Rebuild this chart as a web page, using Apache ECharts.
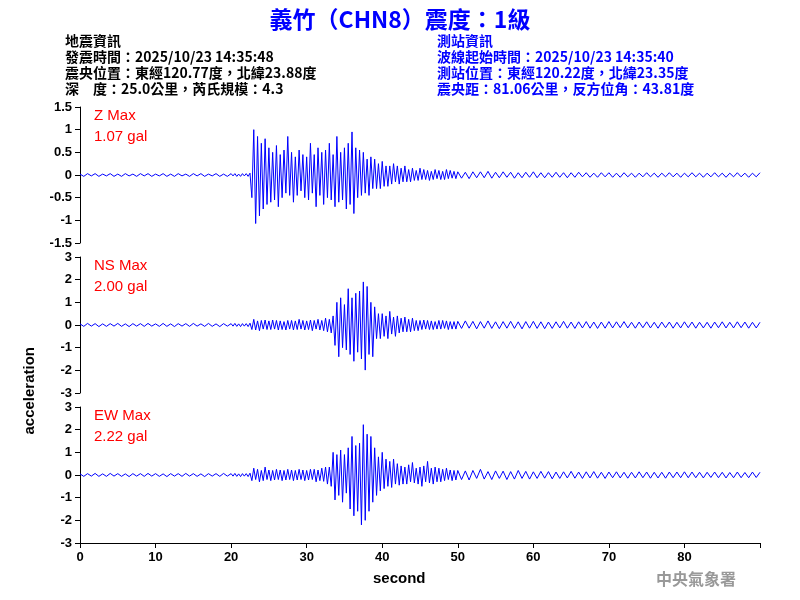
<!DOCTYPE html>
<html><head><meta charset="utf-8">
<script src="https://cdn.jsdelivr.net/npm/echarts@6/dist/echarts.min.js"></script>
<style>body{margin:0}#c{width:800px;height:600px}</style></head>
<body><div id="c"></div>
<script>
// quiet pre-event (0–19.5 s, 0.5 s), active (20–50 s, 0.25 s), tail (50.5–90 s, 0.5 s)
const zPre=[0.02,-0.03,0.03,-0.02,0.03,-0.03,0.02,-0.02,0.03,-0.03,0.02,-0.03,0.03,-0.02,0.02,-0.03,0.03,-0.02,0.03,-0.03,0.02,-0.02,0.03,-0.03,0.02,-0.03,0.03,-0.02,0.02,-0.03,0.03,-0.02,0.03,-0.03,0.02,-0.02,0.03,-0.03,0.02,-0.03];
const zAct=[0.03,-0.02,0.03,-0.03,0.02,-0.03,0.03,-0.02,0.03,-0.03,0.04,
-0.5,1.0,-1.07,0.85,-0.9,0.7,-0.75,0.8,-0.65,0.6,
-0.6,0.5,-0.55,0.65,-0.7,0.45,-0.5,0.55,-0.4,0.85,
-0.45,0.5,-0.6,0.4,-0.45,0.55,-0.35,0.45,-0.5,0.4,
-0.55,0.7,-0.4,0.45,-0.7,0.6,-0.45,0.5,-0.65,0.55,
-0.5,0.7,-0.55,0.45,-0.7,0.85,-0.6,0.5,-0.55,0.6,
-0.75,0.7,-0.65,0.95,-0.85,0.6,-0.5,0.55,-0.45,0.5,
-0.4,0.35,-0.45,0.4,-0.3,0.35,-0.3,0.25,-0.3,0.3,
-0.25,0.2,-0.25,0.2,-0.2,0.25,-0.15,0.2,-0.2,0.15,
-0.15,0.2,-0.15,0.12,-0.15,0.15,-0.12,0.1,-0.12,0.15,
-0.1,0.12,-0.1,0.1,-0.12,0.08,-0.1,0.12,-0.08,0.1,
-0.1,0.08,-0.1,0.12,-0.08,0.1,-0.07,0.08,-0.08,0.07];
const zPost=[-0.07,0.06,-0.08,0.07,-0.06,0.07,-0.06,0.08,-0.07,0.06,-0.06,0.07,-0.05,0.06,-0.07,0.05,-0.06,0.06,-0.05,0.07,
-0.06,0.05,-0.06,0.05,-0.05,0.06,-0.05,0.05,-0.06,0.05,-0.05,0.06,-0.04,0.05,-0.05,0.04,-0.05,0.05,-0.04,0.05,
-0.05,0.04,-0.05,0.05,-0.04,0.04,-0.05,0.04,-0.04,0.05,-0.04,0.04,-0.05,0.04,-0.04,0.05,-0.04,0.04,-0.05,0.04,
-0.04,0.05,-0.04,0.04,-0.05,0.04,-0.04,0.05,-0.04,0.04,-0.05,0.04,-0.04,0.05,-0.04,0.04,-0.05,0.04,-0.04,0.05];
const nsPre=[0.05,-0.06,0.07,-0.05,0.06,-0.07,0.05,-0.06,0.06,-0.05,0.07,-0.06,0.05,-0.07,0.06,-0.05,0.06,-0.06,0.07,-0.05,0.05,-0.06,0.07,-0.06,0.05,-0.07,0.06,-0.05,0.06,-0.06,0.07,-0.05,0.05,-0.06,0.07,-0.06,0.05,-0.07,0.06,-0.05];
const nsAct=[0.06,-0.05,0.07,-0.06,0.05,-0.07,0.06,-0.05,0.06,-0.07,0.08,
-0.2,0.25,-0.22,0.18,-0.25,0.2,-0.18,0.22,-0.2,0.18,
-0.2,0.22,-0.18,0.2,-0.22,0.18,-0.2,0.15,-0.22,0.2,
-0.18,0.2,-0.22,0.18,-0.2,0.25,-0.18,0.2,-0.22,0.18,
-0.2,0.22,-0.25,0.2,-0.18,0.25,-0.22,0.2,-0.25,0.3,
-0.3,0.25,-0.35,0.4,-0.9,1.0,-1.4,1.2,-1.0,0.9,
-1.1,1.6,-1.3,1.2,-1.6,1.4,-1.2,1.5,-1.5,1.9,
-1.99,1.7,-1.3,1.0,-1.4,0.8,-0.6,0.5,-0.6,0.5,
-0.5,0.4,-0.6,0.6,-0.4,0.35,-0.5,0.4,-0.35,0.3,
-0.3,0.35,-0.3,0.25,-0.3,0.3,-0.25,0.2,-0.25,0.2,
-0.2,0.22,-0.18,0.2,-0.2,0.18,-0.2,0.15,-0.18,0.2,
-0.18,0.2,-0.15,0.18,-0.2,0.15,-0.18,0.15,-0.18,0.16];
const nsPost=[-0.15,0.18,-0.14,0.16,-0.17,0.15,-0.14,0.18,-0.15,0.14,-0.16,0.15,-0.14,0.16,-0.15,0.14,-0.17,0.15,-0.14,0.16,
-0.15,0.14,-0.16,0.13,-0.15,0.14,-0.13,0.16,-0.14,0.13,-0.15,0.14,-0.13,0.15,-0.14,0.13,-0.15,0.13,-0.14,0.15,
-0.13,0.14,-0.12,0.15,-0.13,0.12,-0.14,0.13,-0.12,0.14,-0.13,0.12,-0.14,0.13,-0.12,0.13,-0.14,0.12,-0.13,0.14,
-0.12,0.13,-0.14,0.12,-0.13,0.12,-0.14,0.13,-0.12,0.14,-0.13,0.12,-0.13,0.14,-0.12,0.13,-0.14,0.12,-0.13,0.12];
const ewPre=[0.05,-0.06,0.06,-0.05,0.07,-0.06,0.05,-0.06,0.07,-0.05,0.06,-0.06,0.05,-0.07,0.06,-0.05,0.06,-0.06,0.07,-0.05,0.06,-0.06,0.05,-0.07,0.06,-0.05,0.06,-0.06,0.07,-0.05,0.06,-0.06,0.05,-0.07,0.06,-0.05,0.06,-0.06,0.07,-0.05];
const ewAct=[0.06,-0.05,0.07,-0.06,0.05,-0.07,0.06,-0.05,0.06,-0.07,0.08,
-0.25,0.3,-0.2,0.25,-0.3,0.2,-0.25,0.35,-0.2,0.22,
-0.25,0.2,-0.22,0.25,-0.2,0.22,-0.25,0.2,-0.22,0.25,
-0.2,0.22,-0.25,0.2,-0.22,0.25,-0.2,0.22,-0.25,0.2,
-0.22,0.25,-0.2,0.25,-0.3,0.22,-0.25,0.3,-0.28,0.35,
-0.4,0.35,-0.5,1.0,-1.1,0.9,-0.9,1.1,-1.2,0.9,
-0.8,1.2,-1.5,1.7,-1.8,1.3,-1.6,1.4,-2.2,2.22,
-2.0,1.8,-1.6,1.7,-1.2,1.2,-0.9,0.8,-0.7,1.0,
-0.6,0.7,-0.5,0.6,-0.55,0.7,-0.4,0.5,-0.45,0.4,
-0.4,0.35,-0.4,0.45,-0.3,0.55,-0.35,0.3,-0.4,0.35,
-0.5,0.4,-0.3,0.6,-0.35,0.3,-0.4,0.35,-0.3,0.3,
-0.3,0.25,-0.25,0.3,-0.2,0.22,-0.25,0.2,-0.22,0.2];
const ewPost=[-0.2,0.18,-0.22,0.2,-0.15,0.25,-0.18,0.15,-0.2,0.18,-0.15,0.17,-0.2,0.15,-0.18,0.2,-0.15,0.16,-0.18,0.14,
-0.15,0.16,-0.14,0.15,-0.17,0.13,-0.15,0.14,-0.13,0.16,-0.14,0.13,-0.15,0.14,-0.13,0.15,-0.14,0.12,-0.15,0.13,
-0.12,0.14,-0.13,0.12,-0.14,0.12,-0.13,0.14,-0.12,0.13,-0.14,0.12,-0.13,0.12,-0.14,0.13,-0.12,0.13,-0.12,0.14,
-0.12,0.13,-0.12,0.12,-0.13,0.12,-0.11,0.13,-0.12,0.12,-0.13,0.11,-0.12,0.13,-0.12,0.11,-0.12,0.13,-0.11,0.12];
const maxLabels=[['Z Max','1.07 gal'],['NS Max','2.00 gal'],['EW Max','2.22 gal']];

function build(pre,act,post){
  const out=[];
  pre.forEach((v,i)=>out.push([i*0.5,v]));
  act.forEach((v,i)=>out.push([20+i*0.25,v]));
  post.forEach((v,i)=>out.push([50.5+i*0.5,v]));
  return out;
}
const traces=[build(zPre,zAct,zPost),build(nsPre,nsAct,nsPost),build(ewPre,ewAct,ewPost)];
const tops=[107,257,407];
const ranges=[[-1.5,1.5,0.5],[-3,3,1],[-3,3,1]];
const ax={lineStyle:{color:'#000'}};
const lblFont={color:'#000',fontFamily:'Liberation Sans',fontSize:13};
const grids=[],xA=[],yA=[],series=[];
tops.forEach((t,i)=>{
  grids.push({left:80,right:40,top:t,height:136});
  xA.push({type:'value',gridIndex:i,min:0,max:90,interval:10,
    show:i===2,axisLine:{show:true,onZero:false,...ax},axisTick:{show:true,...ax},
    splitLine:{show:false},axisLabel:{...lblFont,fontSize:13,fontWeight:'bold',formatter:v=>v===90?'':v}});
  yA.push({type:'value',gridIndex:i,min:ranges[i][0],max:ranges[i][1],interval:ranges[i][2],
    axisLine:{show:true,...ax},axisTick:{show:true,...ax},splitLine:{show:false},
    axisLabel:{...lblFont,fontWeight:'bold'}});
  series.push({type:'line',xAxisIndex:i,yAxisIndex:i,data:traces[i],showSymbol:false,
    sampling:'none',lineStyle:{color:'#0000ff',width:1},itemStyle:{color:'#0000ff'},animation:false});
});
const cjk="'Noto Sans CJK TC','Liberation Sans'";
const texts=[];
function tx(x,y,s,opt){texts.push({type:'text',left:x,top:y,style:Object.assign({text:s,fill:'#000',font:"bold 14px "+cjk},opt||{})});}
const L=['地震資訊','發震時間：2025/10/23 14:35:48','震央位置：東經120.77度，北緯23.88度','深　度：25.0公里，芮氏規模：4.3'];
const R=['測站資訊','波線起始時間：2025/10/23 14:35:40','測站位置：東經120.22度，北緯23.35度','震央距：81.06公里，反方位角：43.81度'];
L.forEach((s,i)=>tx(65,34+i*16,s));
R.forEach((s,i)=>tx(437,34+i*16,s,{fill:'#0000ff'}));
maxLabels.forEach((m,i)=>{
  tx(94,tops[i]+1,m[0],{fill:'#ff0000',font:"15px 'Liberation Sans'"});
  tx(94,tops[i]+22,m[1],{fill:'#ff0000',font:"15px 'Liberation Sans'"});
});
const chart=echarts.init(document.getElementById('c'));
chart.setOption({
  backgroundColor:'#fff',animation:false,
  title:{text:'義竹（CHN8）震度：1級',left:'center',top:3,textStyle:{color:'#0000ff',fontSize:23,fontWeight:'bold',fontFamily:cjk}},
  grid:grids,xAxis:xA,yAxis:yA,series:series,
  graphic:texts.concat([
    {type:'text',left:22,top:347,rotation:Math.PI/2,style:{text:'acceleration',fill:'#000',font:"bold 15px 'Liberation Sans'"}},
    {type:'text',left:373,top:571,style:{text:'second',fill:'#000',font:"bold 15px 'Liberation Sans'"}},
    {type:'text',left:656,top:571,style:{text:'中央氣象署',fill:'#999',font:"bold 16px 'Noto Sans CJK TC'"}}
  ])
});
</script></body></html>
